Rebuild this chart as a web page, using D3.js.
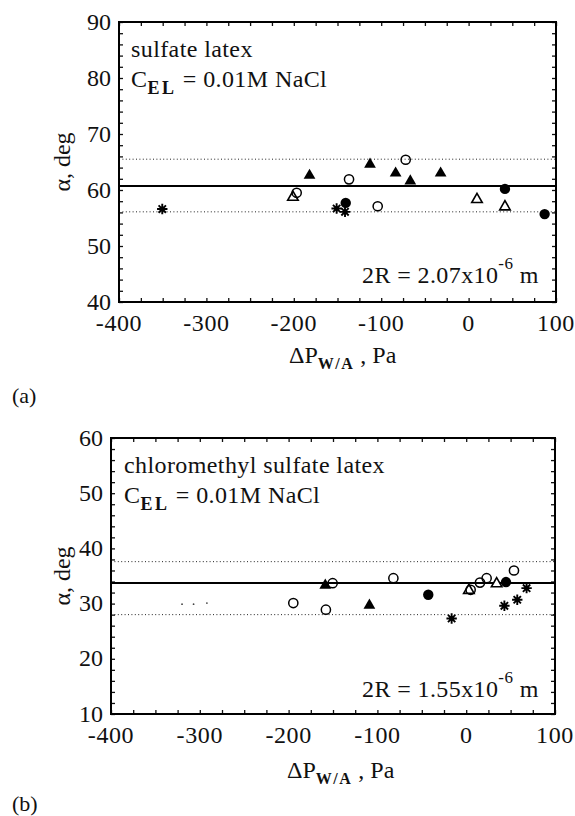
<!DOCTYPE html>
<html>
<head>
<meta charset="utf-8">
<script src="https://cdnjs.cloudflare.com/ajax/libs/d3/7.8.5/d3.min.js"></script>
<style>
  body { margin: 0; background: #fff; }
  svg text { font-family: "Liberation Serif", "Times New Roman", Times, serif; fill: #111; }
</style>
</head>
<body>
<div id="chart"></div>
<script>
/* ============================================================
   DATA
============================================================ */

const X_TICKS = [-400, -300, -200, -100, 0, 100];
const X_DOMAIN = [-400, 100];

// panel (a) sulfate latex
const Y_TICKS_A = [40, 50, 60, 70, 80, 90];
const FILLED_CIRCLE_A = [[-140.6, 57.7], [41.6, 60.2], [87, 55.7]];
const OPEN_CIRCLE_A = [[-196.7, 59.5], [-136.8, 61.9], [-104, 57.1], [-72, 65.4]];
const FILLED_TRI_A = [[-182, 62.6], [-112.8, 64.6], [-83.5, 63.0], [-66.7, 61.6], [-32, 63.0]];
const OPEN_TRI_A = [[-201, 58.7], [9.6, 58.3], [41.6, 57.0]];
const ASTERISK_A = [[-350.5, 56.6], [-151, 56.7], [-141.4, 56.1]];
const LINES_A = { mean: 60.7, upper: 65.5, lower: 56.1 };

// panel (b) chloromethyl sulfate latex
const Y_TICKS_B = [10, 20, 30, 40, 50, 60];
const FILLED_CIRCLE_B = [[-42.7, 31.6], [44.8, 33.9]];
const OPEN_CIRCLE_B = [[-194.7, 30.1], [-158, 28.9], [-150.4, 33.7], [-82, 34.6],
                       [5, 32.5], [15.5, 33.8], [23, 34.6], [53.8, 36.0]];
const FILLED_TRI_B = [[-158.7, 33.3], [-109, 29.7]];
const OPEN_TRI_B = [[3, 32.4], [34.3, 33.6]];
const ASTERISK_B = [[-16.4, 27.3], [43, 29.6], [57.5, 30.7], [68, 32.8]];
const SPECKS_B = [[-320, 29.9], [-307, 29.9], [-292, 30.1]];   // scan specks
const LINES_B = { mean: 33.75, upper: 37.6, lower: 28.0 };

/* ============================================================
   SVG
============================================================ */

const W = 575, H = 816;

const svg = d3.select("#chart")
    .append("svg")
    .attr("width", W)
    .attr("height", H);

svg.append("rect").attr("width", W).attr("height", H).attr("fill", "#fff");

drawPanel({
    box: { left: 119, right: 556, top: 22, bottom: 302 },
    yDomain: [40, 90],
    yTicks: Y_TICKS_A,
    filledCircle: FILLED_CIRCLE_A,
    openCircle: OPEN_CIRCLE_A,
    filledTri: FILLED_TRI_A,
    openTri: OPEN_TRI_A,
    asterisk: ASTERISK_A,
    specks: [],
    lines: LINES_A,
    title: "sulfate latex",
    titleY: 57,
    titleX: 131,
    sizeText: "2.07",
    sizeY: 283,
    xLabelY: 363,
    xLabelX: 289,
    panelTag: "(a)",
    panelTagY: 403
});

drawPanel({
    box: { left: 111, right: 555, top: 438, bottom: 714 },
    yDomain: [10, 60],
    yTicks: Y_TICKS_B,
    filledCircle: FILLED_CIRCLE_B,
    openCircle: OPEN_CIRCLE_B,
    filledTri: FILLED_TRI_B,
    openTri: OPEN_TRI_B,
    asterisk: ASTERISK_B,
    specks: SPECKS_B,
    lines: LINES_B,
    title: "chloromethyl sulfate latex",
    titleY: 473,
    titleX: 124,
    sizeText: "1.55",
    sizeY: 697,
    xLabelY: 778,
    xLabelX: 287,
    panelTag: "(b)",
    panelTagY: 811
});

/* ============================================================
   PANEL
============================================================ */

function drawPanel(p) {
    const b = p.box;
    const x = d3.scaleLinear().domain(X_DOMAIN).range([b.left, b.right]);
    const y = d3.scaleLinear().domain(p.yDomain).range([b.bottom, b.top]);
    const g = svg.append("g");

    // minor ticks on all four sides, pointing inward
    const xMinor = d3.range(X_DOMAIN[0], X_DOMAIN[1] + 1, 25);
    const yMinor = d3.range(p.yDomain[0], p.yDomain[1] + 0.1, 2);

    const tickAxes = [
        [d3.axisBottom(x).tickValues(xMinor), `translate(0,${b.bottom})`],
        [d3.axisTop(x).tickValues(xMinor), `translate(0,${b.top})`],
        [d3.axisLeft(y).tickValues(yMinor), `translate(${b.left},0)`],
        [d3.axisRight(y).tickValues(yMinor), `translate(${b.right},0)`]
    ];
    tickAxes.forEach(([ax, tr]) => {
        const a = g.append("g")
            .attr("transform", tr)
            .call(ax.tickSize(-4).tickFormat(""));
        a.select(".domain").remove();
        a.selectAll("line").attr("stroke", "#111").attr("stroke-width", 1.3);
    });

    // tick labels
    g.selectAll("text.xt")
        .data(X_TICKS)
        .join("text")
        .attr("class", "xt")
        .attr("x", d => x(d))
        .attr("y", b.bottom + 29)
        .attr("text-anchor", "middle")
        .attr("font-size", 24)
        .attr("letter-spacing", 0.6)
        .text(d => String(d));

    g.selectAll("text.yt")
        .data(p.yTicks)
        .join("text")
        .attr("class", "yt")
        .attr("x", b.left - 8)
        .attr("y", d => y(d))
        .attr("dy", "0.32em")
        .attr("text-anchor", "end")
        .attr("font-size", 24)
        .text(d => String(d));

    // reference lines
    g.append("line")
        .attr("x1", b.left).attr("x2", b.right)
        .attr("y1", y(p.lines.mean)).attr("y2", y(p.lines.mean))
        .attr("stroke", "#000").attr("stroke-width", 2);

    [p.lines.upper, p.lines.lower].forEach(v => {
        g.append("line")
            .attr("x1", b.left).attr("x2", b.right)
            .attr("y1", y(v)).attr("y2", y(v))
            .attr("stroke", "#222").attr("stroke-width", 1)
            .attr("stroke-dasharray", "1,2.4");
    });

    // frame
    g.append("rect")
        .attr("x", b.left).attr("y", b.top)
        .attr("width", b.right - b.left)
        .attr("height", b.bottom - b.top)
        .attr("fill", "none")
        .attr("stroke", "#000")
        .attr("stroke-width", 2);

    // markers
    const tri = d3.symbol(d3.symbolTriangle);
    const ast = r => {
        const k = r * Math.SQRT1_2;
        return `M${-r},0L${r},0M0,${-r}L0,${r}M${-k},${-k}L${k},${k}M${-k},${k}L${k},${-k}`;
    };

    g.selectAll("circle.speck").data(p.specks).join("circle")
        .attr("class", "speck")
        .attr("cx", d => x(d[0])).attr("cy", d => y(d[1]))
        .attr("r", 0.9).attr("fill", "#444");

    g.selectAll("path.otri").data(p.openTri).join("path")
        .attr("class", "otri")
        .attr("transform", d => `translate(${x(d[0])},${y(d[1])})`)
        .attr("d", tri.size(48)())
        .attr("fill", "#fff").attr("stroke", "#000").attr("stroke-width", 1.6);

    g.selectAll("circle.oc").data(p.openCircle).join("circle")
        .attr("class", "oc")
        .attr("cx", d => x(d[0])).attr("cy", d => y(d[1]))
        .attr("r", 4.6)
        .attr("fill", "none").attr("stroke", "#000").attr("stroke-width", 1.5);

    g.selectAll("path.ftri").data(p.filledTri).join("path")
        .attr("class", "ftri")
        .attr("transform", d => `translate(${x(d[0])},${y(d[1])})`)
        .attr("d", tri.size(60)())
        .attr("fill", "#000");

    g.selectAll("path.ast").data(p.asterisk).join("path")
        .attr("class", "ast")
        .attr("transform", d => `translate(${x(d[0])},${y(d[1])})`)
        .attr("d", ast(5.2))
        .attr("stroke", "#000").attr("stroke-width", 1.9).attr("fill", "none");

    g.selectAll("circle.fc").data(p.filledCircle).join("circle")
        .attr("class", "fc")
        .attr("cx", d => x(d[0])).attr("cy", d => y(d[1]))
        .attr("r", 5.2)
        .attr("fill", "#000");

    // annotation text
    g.append("text")
        .attr("x", p.titleX).attr("y", p.titleY)
        .attr("font-size", 24)
        .attr("letter-spacing", 0.4)
        .text(p.title);

    const cel = g.append("text")
        .attr("x", p.titleX).attr("y", p.titleY + 30)
        .attr("font-size", 24)
        .attr("letter-spacing", 0.4);
    cel.append("tspan").text("C");
    cel.append("tspan").attr("dy", 7).attr("font-size", 18)
        .attr("font-weight", "bold").attr("letter-spacing", 2.5).text("EL");
    cel.append("tspan").attr("dy", -7).text(" = 0.01M NaCl");

    const sz = g.append("text")
        .attr("x", 362).attr("y", p.sizeY)
        .attr("font-size", 24)
        .attr("letter-spacing", 0.4);
    sz.append("tspan").text(`2R = ${p.sizeText}x10`);
    sz.append("tspan").attr("dy", -14).attr("font-size", 17).text("-6");
    sz.append("tspan").attr("dy", 14).text(" m");

    // axis titles
    const xl = g.append("text")
        .attr("x", p.xLabelX).attr("y", p.xLabelY)
        .attr("font-size", 24);
    xl.append("tspan").text("\u0394P");
    xl.append("tspan").attr("dy", 6).attr("font-size", 16)
        .attr("font-weight", "bold").attr("letter-spacing", 1.5).text("W/A");
    xl.append("tspan").attr("dy", -6).text(" , Pa");

    g.append("text")
        .attr("transform", `translate(70,${(b.top + b.bottom) / 2}) rotate(-90)`)
        .attr("text-anchor", "middle")
        .attr("font-size", 24)
        .text("\u03b1, deg");

    g.append("text")
        .attr("x", 12).attr("y", p.panelTagY)
        .attr("font-size", 22)
        .text(p.panelTag);
}
</script>
</body>
</html>
